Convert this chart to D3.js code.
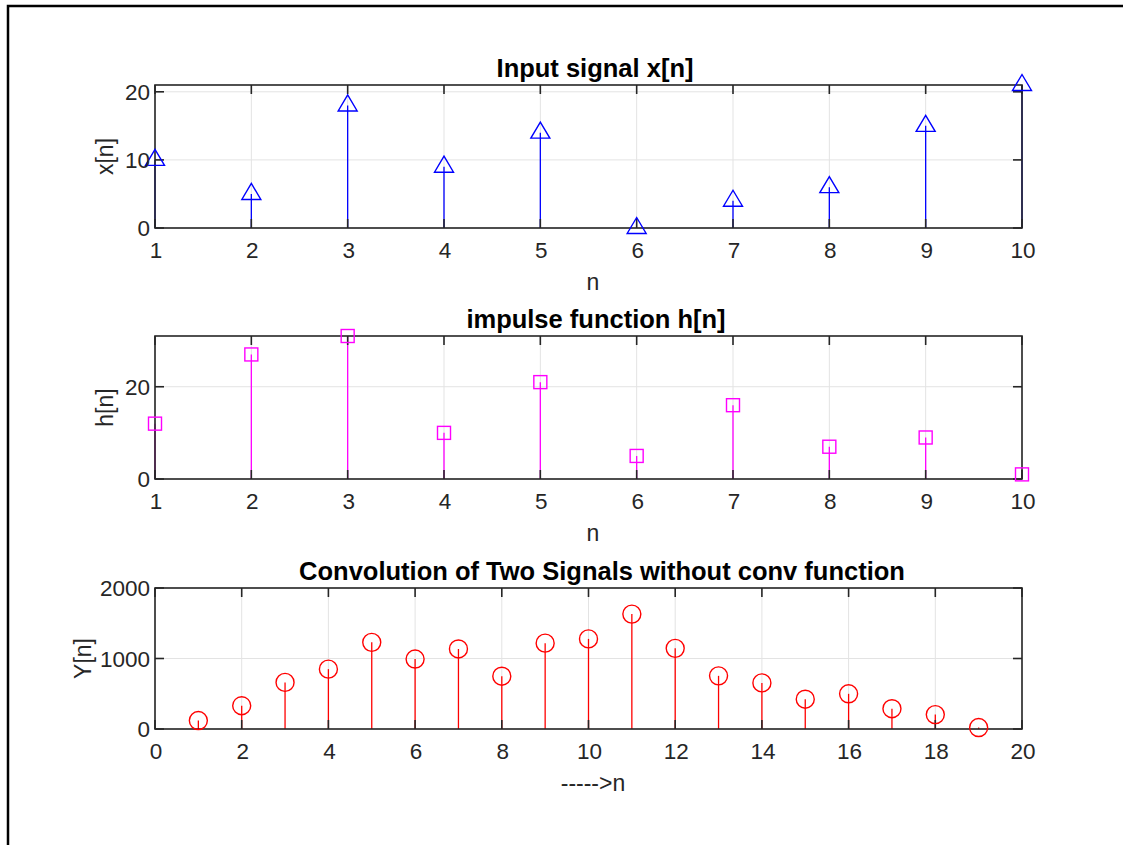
<!DOCTYPE html>
<html>
<head>
<meta charset="utf-8">
<script src="https://cdn.jsdelivr.net/npm/d3@7"></script>
<style>
  body { margin: 0; background: #fff; }
  text { font-family: "Liberation Sans", Arial, sans-serif; }
</style>
</head>
<body>
<div id="chart"></div>
<script>
// signal values
var nInput = [1, 2, 3, 4, 5, 6, 7, 8, 9, 10];
var xValues = [10, 5, 18, 9, 14, 0, 4, 6, 15, 21];
var hValues = [12, 27, 31, 10, 21, 5, 16, 7, 9, 1];
var nConv = [1, 2, 3, 4, 5, 6, 7, 8, 9, 10, 11, 12, 13, 14, 15, 16, 17, 18, 19];
var yValues = [120, 330, 661, 849, 1229, 992, 1135, 749, 1218, 1278, 1630, 1144, 754, 654, 423, 499, 288, 204, 21];

var xTicks1 = [1, 2, 3, 4, 5, 6, 7, 8, 9, 10];
var yTicks1 = [0, 10, 20];
var yTicks2 = [0, 20];
var xTicks3 = [0, 2, 4, 6, 8, 10, 12, 14, 16, 18, 20];
var yTicks3 = [0, 1000, 2000];

var W = 1123, H = 845;
var left = 155, right = 1022;
var axisColor = "#262626";
var gridColor = "#e3e3e3";
var tickFont = 22.5, labelFont = 23, titleFont = 25.5;

var svg = d3.select("#chart").append("svg")
    .attr("width", W).attr("height", H);

// outer figure frame
svg.append("path")
    .attr("d", "M8," + H + "V6H" + W)
    .attr("fill", "none").attr("stroke", "#000").attr("stroke-width", 2.5);

var panels = [
  { top: 85, bottom: 228, xDom: [1, 10], yDom: [0, 21], xt: xTicks1, yt: yTicks1,
    n: nInput, v: xValues, color: "#0000ff", marker: "tri",
    title: "Input signal x[n]", titleX: 595, xlabel: "n", ylabel: "x[n]", ylabX: 105 },
  { top: 336, bottom: 479, xDom: [1, 10], yDom: [0, 31], xt: xTicks1, yt: yTicks2,
    n: nInput, v: hValues, color: "#ff00ff", marker: "sq",
    title: "impulse function h[n]", titleX: 596, xlabel: "n", ylabel: "h[n]", ylabX: 105 },
  { top: 588, bottom: 729, xDom: [0, 20], yDom: [0, 2000], xt: xTicks3, yt: yTicks3,
    n: nConv, v: yValues, color: "#ff0000", marker: "circ",
    title: "Convolution of Two Signals without conv function", titleX: 602,
    xlabel: "----->n", ylabel: "Y[n]", ylabX: 83 }
];

panels.forEach(drawPanel);

function drawPanel(p) {
  var x = d3.scaleLinear().domain(p.xDom).range([left, right]);
  var y = d3.scaleLinear().domain(p.yDom).range([p.bottom, p.top]);
  var g = svg.append("g");

  // grid
  g.selectAll(".gx").data(p.xt).enter().append("line")
      .attr("x1", function(d) { return x(d); }).attr("x2", function(d) { return x(d); })
      .attr("y1", p.top).attr("y2", p.bottom)
      .attr("stroke", gridColor).attr("stroke-width", 1);
  g.selectAll(".gy").data(p.yt).enter().append("line")
      .attr("x1", left).attr("x2", right)
      .attr("y1", function(d) { return y(d); }).attr("y2", function(d) { return y(d); })
      .attr("stroke", gridColor).attr("stroke-width", 1);

  // stems
  g.selectAll(".stem").data(p.v).enter().append("line")
      .attr("x1", function(d, i) { return x(p.n[i]); })
      .attr("x2", function(d, i) { return x(p.n[i]); })
      .attr("y1", y(0)).attr("y2", function(d) { return y(d); })
      .attr("stroke", p.color).attr("stroke-width", 1.3);

  // axes box + inward ticks drawn over the data
  var tl = 9;
  var axG = g.append("g").attr("stroke", axisColor).attr("stroke-width", 1.6);
  p.xt.forEach(function(t) {
    axG.append("line").attr("x1", x(t)).attr("x2", x(t)).attr("y1", p.bottom).attr("y2", p.bottom - tl);
    axG.append("line").attr("x1", x(t)).attr("x2", x(t)).attr("y1", p.top).attr("y2", p.top + tl);
  });
  p.yt.forEach(function(t) {
    axG.append("line").attr("x1", left).attr("x2", left + tl).attr("y1", y(t)).attr("y2", y(t));
    axG.append("line").attr("x1", right).attr("x2", right - tl).attr("y1", y(t)).attr("y2", y(t));
  });
  axG.append("rect").attr("x", left).attr("y", p.top)
      .attr("width", right - left).attr("height", p.bottom - p.top)
      .attr("fill", "none");

  // markers
  var mk = g.selectAll(".mk").data(p.v).enter();
  if (p.marker === "tri") {
    mk.append("path")
        .attr("d", function(d, i) {
          var cx = x(p.n[i]), cy = y(d);
          return "M" + cx + "," + (cy - 10.5) + "L" + (cx + 9.5) + "," + (cy + 5.5) +
                 "L" + (cx - 9.5) + "," + (cy + 5.5) + "Z";
        })
        .attr("fill", "none").attr("stroke", p.color).attr("stroke-width", 1.4);
  } else if (p.marker === "sq") {
    mk.append("rect")
        .attr("x", function(d, i) { return x(p.n[i]) - 6.5; })
        .attr("y", function(d) { return y(d) - 6.5; })
        .attr("width", 13).attr("height", 13)
        .attr("fill", "none").attr("stroke", p.color).attr("stroke-width", 1.4);
  } else {
    mk.append("circle")
        .attr("cx", function(d, i) { return x(p.n[i]); })
        .attr("cy", function(d) { return y(d); })
        .attr("r", 9)
        .attr("fill", "none").attr("stroke", p.color).attr("stroke-width", 1.4);
  }

  // tick labels
  g.selectAll(".xl").data(p.xt).enter().append("text")
      .attr("x", function(d) { return x(d) + 1; })
      .attr("y", p.bottom + 30)
      .attr("text-anchor", "middle")
      .attr("font-size", tickFont).attr("fill", axisColor)
      .text(function(d) { return d; });
  g.selectAll(".yl").data(p.yt).enter().append("text")
      .attr("x", left - 5)
      .attr("y", function(d) { return y(d) + 8; })
      .attr("text-anchor", "end")
      .attr("font-size", tickFont).attr("fill", axisColor)
      .text(function(d) { return d; });

  // labels and title
  g.append("text")
      .attr("x", 593).attr("y", p.bottom + 62)
      .attr("text-anchor", "middle").attr("font-size", labelFont).attr("fill", axisColor)
      .text(p.xlabel);
  g.append("text")
      .attr("transform", "translate(" + (p.ylabX + 8) + "," + (p.top + p.bottom) / 2 + ") rotate(-90)")
      .attr("text-anchor", "middle").attr("font-size", labelFont).attr("fill", axisColor)
      .text(p.ylabel);
  g.append("text")
      .attr("x", p.titleX).attr("y", p.top - 8)
      .attr("text-anchor", "middle").attr("font-size", titleFont)
      .attr("font-weight", "bold").attr("fill", "#000")
      .text(p.title);
}
</script>
</body>
</html>
